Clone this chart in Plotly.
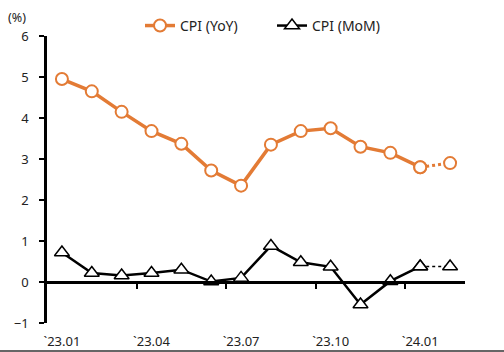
import plotly.graph_objects as go

months = ["23.01", "23.02", "23.03", "23.04", "23.05", "23.06", "23.07",
          "23.08", "23.09", "23.10", "23.11", "23.12", "24.01", "24.02"]
cpi_yoy = [4.95, 4.65, 4.15, 3.68, 3.37, 2.72, 2.35, 3.35, 3.68, 3.75, 3.3, 3.15, 2.8, 2.9]
cpi_mom = [0.72, 0.22, 0.16, 0.22, 0.3, 0.01, 0.1, 0.88, 0.48, 0.37, -0.55, 0.02, 0.38, 0.38]
tick_idx = [0, 3, 6, 9, 12]
tick_labels = ["`23.01", "`23.04", "`23.07", "`23.10", "`24.01"]

x = list(range(len(months)))
n_solid = 13  # last segment is dotted (preliminary)

ORANGE = "#E37B35"
FONT = "Noto Sans"
TXT = "#222222"

fig = go.Figure()
fig.add_trace(go.Scatter(
    x=x[:n_solid], y=cpi_yoy[:n_solid], mode="lines+markers", name="CPI (YoY)",
    line=dict(color=ORANGE, width=3.5),
    marker=dict(symbol="circle", size=12, color="white", line=dict(color=ORANGE, width=2)),
))
fig.add_trace(go.Scatter(
    x=x[:n_solid], y=cpi_mom[:n_solid], mode="lines+markers", name="CPI (MoM)",
    line=dict(color="black", width=2.5),
    marker=dict(symbol="triangle-up", size=13, color="white", line=dict(color="black", width=1.5)),
))
fig.add_trace(go.Scatter(
    x=x[n_solid - 1:], y=cpi_yoy[n_solid - 1:], mode="lines+markers", showlegend=False,
    line=dict(color=ORANGE, width=3, dash="dot"),
    marker=dict(symbol="circle", size=12, color="white", line=dict(color=ORANGE, width=2)),
    xaxis="x2",
))
fig.add_trace(go.Scatter(
    x=x[n_solid - 1:], y=cpi_mom[n_solid - 1:], mode="lines+markers", showlegend=False,
    line=dict(color="black", width=1.5, dash="dot"),
    marker=dict(symbol="triangle-up", size=13, color="white", line=dict(color="black", width=1.5)),
    xaxis="x2",
))

fig.update_layout(
    width=504, height=352,
    margin=dict(l=47, r=39, t=36, b=29, autoexpand=False),
    paper_bgcolor="white", plot_bgcolor="white",
    font=dict(family=FONT, size=12, color=TXT),
    showlegend=True,
    legend=dict(orientation="h", x=0.2225, xanchor="left", y=1.035, yanchor="middle",
                font=dict(size=14, color=TXT), entrywidth=87, entrywidthmode="pixels",
                tracegroupgap=0, bgcolor="rgba(0,0,0,0)"),
    xaxis=dict(range=[-0.5, len(months) - 0.5], tickmode="array", tickvals=tick_idx,
               ticktext=tick_labels, showgrid=False, zeroline=False, showline=False,
               ticks="outside", ticklen=6, tickcolor="rgba(0,0,0,0)", automargin=False,
               tickfont=dict(size=13, color=TXT)),
    xaxis2=dict(range=[-0.5, len(months) - 0.5], overlaying="x", anchor="free",
                position=1 / 7, tickmode="array", tickvals=[2.5, 5.5, 8.5, 11.5],
                showticklabels=False, showgrid=False, zeroline=False, automargin=False,
                showline=True, linecolor="black", linewidth=2.5,
                ticks="outside", ticklen=5, tickwidth=2, tickcolor="black"),
    yaxis=dict(range=[-1, 6], dtick=1, showgrid=False, zeroline=False, automargin=False,
               showline=True, linecolor="black", linewidth=2.5,
               ticks="outside", ticklen=5, tickwidth=2, tickcolor="black",
               ticklabelstandoff=8,
               tickfont=dict(size=13, color=TXT)),
)
fig.add_annotation(text="(%)", xref="paper", yref="paper", x=-0.072, y=1.066,
                   xanchor="center", yanchor="middle", showarrow=False,
                   font=dict(size=12.5, color=TXT))
fig.add_shape(type="line", xref="paper", yref="paper", x0=-0.2, x1=1.2,
              y0=-0.0975, y1=-0.0975, line=dict(color="#333333", width=1.5))

fig.write_html("out.html")
